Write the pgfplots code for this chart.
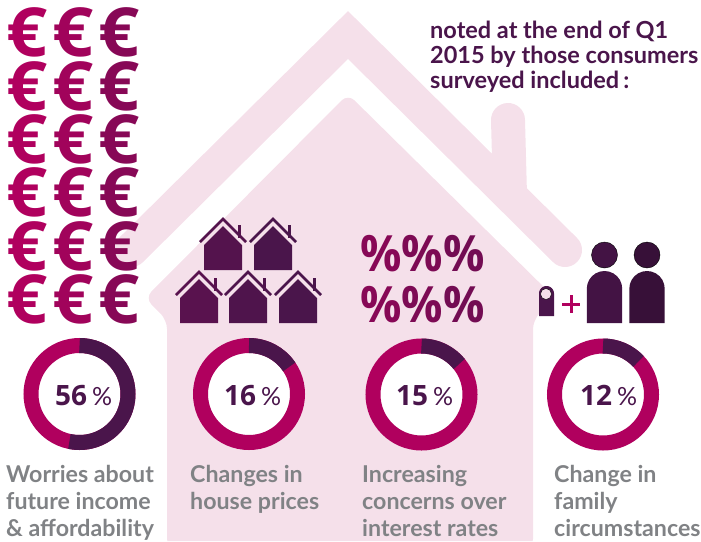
\documentclass[border=0pt]{standalone}
\usepackage{fontspec}
\setmainfont{Lato}
\newfontfamily\euroface[FakeStretch=1.06]{Open Sans}
\newfontfamily\pctface[FakeStretch=0.92]{Open Sans}
\newfontfamily\numface{Open Sans}
\usepackage{pgfplots}
\pgfplotsset{compat=1.18}
\usepackage{pgfplotstable}

\definecolor{blush}{HTML}{F5E0EA}
\definecolor{berry}{HTML}{B0005E}
\definecolor{plum}{HTML}{4A154B}
\definecolor{labelgrey}{HTML}{808285}

% small house, coordinates relative to the tip of the roof
\pgfplotstableread{
x y
0 9
19 28
19 53
-19 53
-19 28
}\houseBody
\pgfplotstableread{
x y
-23 25
0 2
23 25
}\houseRoof
\pgfplotstableread{
x y
16 8
16 21
}\houseChimney
% arched body of a person, unit radius, from bottom left over the top
\pgfplotstableread{
x y
-1 3
-1 0
-0.966 -0.259
-0.866 -0.5
-0.707 -0.707
-0.5 -0.866
-0.259 -0.966
0 -1
0.259 -0.966
0.5 -0.866
0.707 -0.707
0.866 -0.5
0.966 -0.259
1 0
1 3
}\personBody

\newcommand{\smallhouse}[3]{%
  \addplot[fill=#3,draw=none] table[x expr=\thisrow{x}+#1,y expr=\thisrow{y}+#2] {\houseBody} -- cycle;
  \addplot[draw=#3,line width=2.8pt] table[x expr=\thisrow{x}+#1,y expr=\thisrow{y}+#2] {\houseRoof};
  \addplot[draw=#3,line width=3pt] table[x expr=\thisrow{x}+#1,y expr=\thisrow{y}+#2] {\houseChimney};
}
\newcommand{\person}[5]{% x, top of arch, radius, bottom, colour
  \addplot[fill=#5,draw=none] table[x expr=\thisrow{x}*#3+#1,y expr={min(\thisrow{y}*#3+#2+#3,#4)}] {\personBody} -- cycle;
}
\newcommand{\donut}[5]{% x, y, sweep of the dark arc in degrees, big number, x of the number
  \addplot[only marks,mark=*,mark size=48.5pt,mark options={draw=berry,fill=white,line width=15pt}] coordinates {(#1,#2)};
  \draw[plum,line width=15pt] (axis cs:#1,#2) ++(0,48.5pt) arc[start angle=90,delta angle=-#3,radius=48.5pt];
  \node[anchor=base west,inner sep=0pt,text=plum,font=\fontsize{28}{28}\selectfont\numface\bfseries] at (axis cs:#5,#2+11) {#4};
  \node[anchor=base west,inner sep=0pt,text=plum,font=\fontsize{25}{25}\selectfont] at (axis cs:#5+37,#2+11) {\%};
}
\newcommand{\glabel}[3]{%
  \node[anchor=base west,inner sep=0pt,text=labelgrey,font=\fontsize{23.2}{23.2}\selectfont\bfseries] at (axis cs:#1,#2) {#3};
}
\newcommand{\headline}[2]{%
  \node[anchor=base west,inner sep=0pt,text=plum,font=\fontsize{23.5}{23.5}\selectfont\bfseries] at (axis cs:430,#1) {#2};
}
\pgfplotsset{
  glyphs/.style n args={3}{
    only marks,mark=text,text mark={#1},text mark as node=true,
    text mark style={inner sep=0pt,text=#2,font=\fontsize{#3}{#3}\selectfont\bfseries}
  }
}

\begin{document}
\begin{tikzpicture}
\path[use as bounding box] (0,0) rectangle (701pt,541pt);
\begin{axis}[
    at={(0,0)},anchor=south west,
    scale only axis,
    width=701pt,height=541pt,
    xmin=0,xmax=701,
    ymin=0,ymax=541,
    y dir=reverse,
    hide axis,
    clip=true,
    clip mode=individual,
]
% house behind everything
\addplot[blush,line width=34pt,line cap=round,line join=miter] coordinates {(131,250)(348,35)(565,250)};
\addplot[blush,line width=34pt,line cap=round] coordinates {(508,120)(510,195)};
\addplot[fill=blush,draw=none,rounded corners=9pt] coordinates {
    (348,94)(145,298)(167,320)(167,548)(533,548)(533,320)(555,298)} -- cycle;

% euros
\addplot[glyphs={\euroface €}{berry}{68}] coordinates {(27,32)(27,86)(27,139)(27,192)(27,246)(27,299)};
\addplot[glyphs={\euroface €}{berry!85!plum}{68}] coordinates {(73,32)(73,86)(73,139)(73,192)(73,246)(73,299)};
\addplot[glyphs={\euroface €}{berry!60!plum}{68}] coordinates {(119,32)(119,86)(119,139)(119,192)(119,246)(119,299)};

% houses
\smallhouse{223}{217}{plum!90!berry}
\smallhouse{273}{217}{plum}
\smallhouse{199}{270}{plum!85!berry}
\smallhouse{248}{270}{plum!95!berry}
\smallhouse{298}{270}{plum}

% percent signs
\addplot[glyphs={\pctface\%}{berry!60!plum}{50}] coordinates {(381,254)(381,305)};
\addplot[glyphs={\pctface\%}{berry!50!plum}{50}] coordinates {(422,254)(422,305)};
\addplot[glyphs={\pctface\%}{berry!40!plum}{50}] coordinates {(464,254)(464,305)};

% family
\person{546.5}{286}{7.5}{323}{plum}
\addplot[only marks,mark=*,mark size=5.5pt,mark options={draw=none,fill=blush}] coordinates {(546,294)};
\addplot[berry,line width=3pt] coordinates {(562,304)(580,304)};
\addplot[berry,line width=3pt] coordinates {(571,295)(571,313)};
\person{604.5}{271}{17.7}{323}{plum!90!black}
\person{647}{271}{17.7}{323}{plum!75!black}
\addplot[only marks,mark=*,mark size=13pt,mark options={draw=none,fill=plum!90!black}] coordinates {(604.5,255)};
\addplot[only marks,mark=*,mark size=13pt,mark options={draw=none,fill=plum!75!black}] coordinates {(647,255)};

% rings, sweep as drawn in the picture
\donut{79.5}{394}{192}{56}{55}
\donut{249}{394}{56}{16}{224}
\donut{421.5}{394.5}{51}{15}{396}
\donut{603}{394.5}{47}{12}{580}

% labels
\glabel{6}{482}{Worries about}
\glabel{6}{509}{future income}
\glabel{6}{536}{\& affordability}
\glabel{190}{482}{Changes in}
\glabel{190}{509}{house prices}
\glabel{362}{482}{Increasing}
\glabel{362}{509}{concerns over}
\glabel{362}{536}{interest rates}
\glabel{554}{482}{Change in}
\glabel{554}{509}{family}
\glabel{554}{536}{circumstances}

\headline{38}{noted at the end of Q1}
\headline{63}{2015 by those consumers}
\headline{88}{surveyed included\,:}
\end{axis}
\end{tikzpicture}
\end{document}
